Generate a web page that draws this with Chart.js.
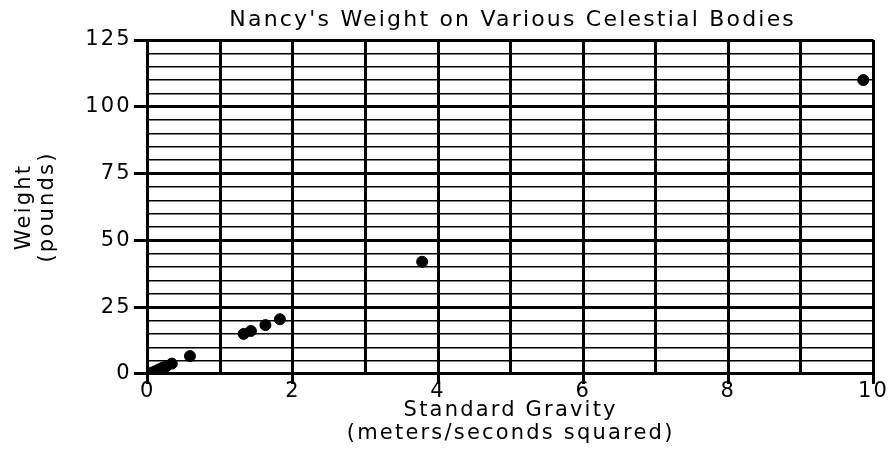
<!DOCTYPE html>
<html>
<head>
<meta charset="utf-8">
<script src="https://cdn.jsdelivr.net/npm/chart.js@4"></script>
<style>
  html, body { margin: 0; padding: 0; background: #fff; }
  #wrap { width: 890px; height: 468px; }
</style>
</head>
<body>
<div id="wrap"><canvas id="chart"></canvas></div>
<script>
// standard gravity (m/s^2) and Nancy's weight (lb)
const gravity = [0, 0.05, 0.1, 0.15, 0.2, 0.25, 0.33, 0.58, 1.32, 1.42, 1.62, 1.82, 3.78, 9.86];
const weight  = [0, 0.5, 1.0, 1.7, 2.3, 2.8, 3.9, 6.7, 15.0, 16.1, 18.3, 20.5, 42.0, 110.0];
const chartTitle = "Nancy's Weight on Various Celestial Bodies";

const points = gravity.map((g, i) => ({ x: g, y: weight[i] }));

const FONT = 'Verdana, "DejaVu Sans", sans-serif';
Chart.defaults.font.family = FONT;
Chart.defaults.color = '#000';

// the original text is set wide, so space the letters a little
const spacing = {
  id: 'spacing',
  beforeUpdate(chart) { chart.ctx.letterSpacing = '2.2px'; },
  beforeDraw(chart) { chart.ctx.letterSpacing = '2.2px'; }
};

// title centred over the plot area rather than the whole canvas
const areaTitle = {
  id: 'areaTitle',
  afterDraw(chart) {
    const ctx = chart.ctx;
    const area = chart.chartArea;
    ctx.save();
    ctx.letterSpacing = '2.2px';
    ctx.font = '22px ' + FONT;
    ctx.fillStyle = '#000';
    ctx.textAlign = 'center';
    ctx.textBaseline = 'middle';
    ctx.fillText(chartTitle, (area.left + area.right) / 2 + 2, 20);
    ctx.restore();
  }
};

const chart = new Chart(document.getElementById('chart'), {
  type: 'scatter',
  data: {
    datasets: [{
      data: points,
      backgroundColor: '#000',
      borderColor: '#000',
      pointRadius: 5.5,
      pointHoverRadius: 5.5
    }]
  },
  plugins: [spacing, areaTitle],
  options: {
    responsive: true,
    maintainAspectRatio: false,
    animation: false,
    layout: { padding: { left: 13, right: 4, top: 40, bottom: 23 } },
    plugins: {
      legend: { display: false },
      tooltip: { enabled: false },
      title: { display: false }
    },
    scales: {
      x: {
        type: 'linear',
        min: 0,
        max: 10,
        ticks: {
          stepSize: 1,
          font: { size: 21, lineHeight: 0.61 },
          padding: 1,
          maxRotation: 0,
          autoSkip: false,
          callback: v => (v % 2 === 0 ? v : '')
        },
        grid: {
          color: '#000',
          lineWidth: 3,
          tickLength: 10,
          tickColor: ctx => (ctx.tick && ctx.tick.value % 2 === 0 ? '#000' : 'rgba(0,0,0,0)')
        },
        border: { color: '#000', width: 3 },
        title: {
          display: true,
          text: ['Standard Gravity', '(meters/seconds squared)'],
          font: { size: 21, lineHeight: 1.1 },
          padding: { top: 0, bottom: 0 }
        }
      },
      y: {
        type: 'linear',
        min: 0,
        max: 125,
        ticks: {
          stepSize: 5,
          font: { size: 21 },
          padding: 2,
          autoSkip: false,
          callback: v => (v % 25 === 0 ? v : '')
        },
        grid: {
          color: '#000',
          lineWidth: ctx => (ctx.tick && ctx.tick.value % 25 === 0 ? 3 : 1.5),
          tickLength: 14,
          tickColor: ctx => (ctx.tick && ctx.tick.value % 25 === 0 ? '#000' : 'rgba(0,0,0,0)')
        },
        border: { color: '#000', width: 3 },
        title: {
          display: true,
          text: ['Weight', '(pounds)'],
          font: { size: 21, lineHeight: 1.1 },
          padding: { top: 0, bottom: 24 }
        }
      }
    }
  }
});
</script>
</body>
</html>
